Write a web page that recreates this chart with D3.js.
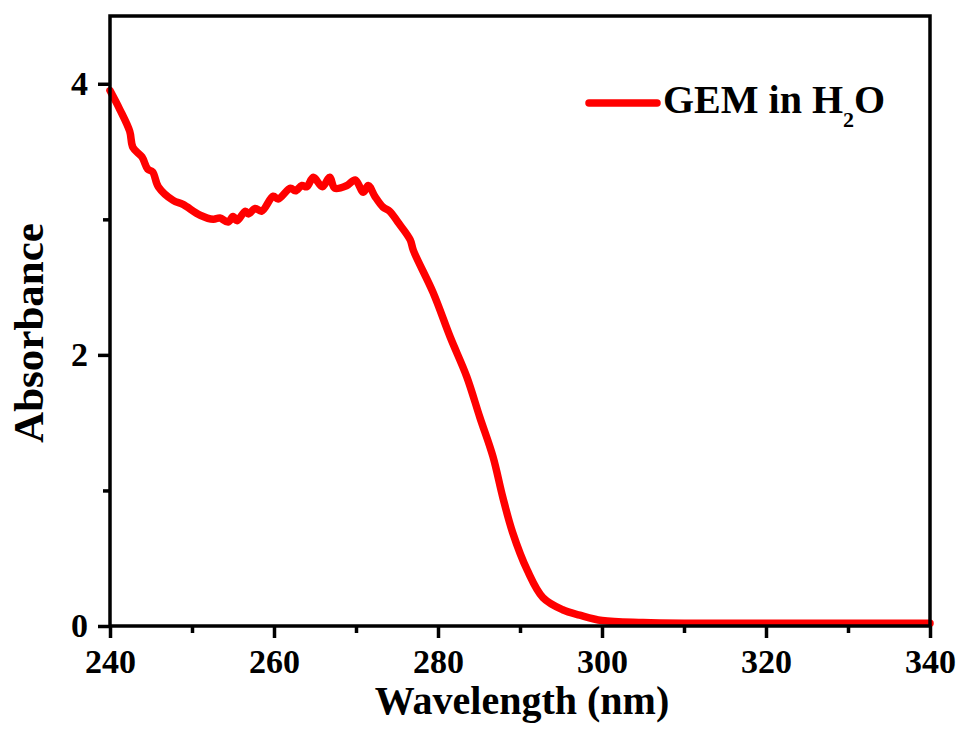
<!DOCTYPE html>
<html><head><meta charset="utf-8">
<script src="https://cdn.jsdelivr.net/npm/d3@7"></script>
<style>body{margin:0;background:#fff}svg{display:block}</style>
</head><body><svg width="960" height="729"></svg>
<script>
const wavelength = [240,241.2,242.4,242.8,243.9,244.6,245.2,245.9,247.7,248.9,251,252.6,253.4,254.4,255,255.5,256.5,256.9,257.7,258.5,259.9,260.5,262,262.6,263.4,264,264.8,265.9,266.8,267.4,268.9,269.9,270.9,271.5,272.3,273.3,274.1,275.1,276.6,277,279.4,281.5,283.5,285.1,286.7,287.9,289.1,290.9,292.8,295.2,297.3,300,305,310,320,330,340];
const absorbance = [3.95,3.81,3.65,3.53,3.46,3.37,3.35,3.24,3.14,3.11,3.03,3.00,3.01,2.98,3.02,2.99,3.06,3.04,3.08,3.06,3.17,3.15,3.23,3.21,3.25,3.24,3.31,3.24,3.31,3.23,3.25,3.29,3.20,3.25,3.17,3.09,3.06,2.98,2.85,2.77,2.46,2.13,1.84,1.54,1.25,0.95,0.69,0.41,0.21,0.12,0.08,0.04,0.025,0.02,0.02,0.02,0.02];
const xTicks = [240,260,280,300,320,340];
const xMinor = [250,270,290,310,330];
const yTicks = [0,2,4];
const yMinor = [1,3];
const seriesName = "GEM in H";

const svg = d3.select("svg");
const L=110,R=930,T=16,B=626;
const x = d3.scaleLinear().domain([240,340]).range([L,R]);
const y = d3.scaleLinear().domain([0,4.5]).range([B,T]);
const font = "'Liberation Serif','Times New Roman',serif";

const data = wavelength.map((w,i)=>[w,absorbance[i]]);
svg.append("path").datum(data)
  .attr("fill","none").attr("stroke","#ff0000").attr("stroke-width",7.5)
  .attr("stroke-linejoin","round").attr("stroke-linecap","round")
  .attr("d", d3.line().curve(d3.curveCatmullRom.alpha(0.5)).x(d=>x(d[0])).y(d=>y(d[1])));

// frame
svg.append("rect").attr("x",L).attr("y",T).attr("width",R-L).attr("height",B-T)
  .attr("fill","none").attr("stroke","#000").attr("stroke-width",3.5);

const xa = svg.append("g").attr("transform",`translate(0,${B})`)
  .call(d3.axisBottom(x).tickValues(xTicks).tickSize(12).tickPadding(11).tickFormat(d3.format("d")));
const xm = svg.append("g").attr("transform",`translate(0,${B})`)
  .call(d3.axisBottom(x).tickValues(xMinor).tickSize(7).tickFormat(""));
const ya = svg.append("g").attr("transform",`translate(${L},0)`)
  .call(d3.axisLeft(y).tickValues(yTicks).tickSize(12).tickPadding(10).tickFormat(d3.format("d")));
const ym = svg.append("g").attr("transform",`translate(${L},0)`)
  .call(d3.axisLeft(y).tickValues(yMinor).tickSize(7).tickFormat(""));
[xa,xm,ya,ym].forEach(g=>{
  g.select(".domain").remove();
  g.selectAll("line").attr("stroke","#000").attr("stroke-width",3.5);
  g.selectAll("text").attr("font-family",font).attr("font-weight","bold").attr("font-size",34).attr("fill","#000");
});

svg.append("text").attr("x",(L+R)/2+2).attr("y",714).attr("text-anchor","middle")
  .attr("font-family",font).attr("font-weight","bold").attr("font-size",40).text("Wavelength (nm)");
svg.append("text").attr("transform",`translate(43,333) rotate(-90)`).attr("text-anchor","middle")
  .attr("font-family",font).attr("font-weight","bold").attr("font-size",43).text("Absorbance");

// legend
svg.append("line").attr("x1",589).attr("x2",657).attr("y1",103).attr("y2",103)
  .attr("stroke","#ff0000").attr("stroke-width",7.5).attr("stroke-linecap","round");
const lt = svg.append("text").attr("x",663).attr("y",113)
  .attr("font-family",font).attr("font-weight","bold").attr("font-size",40);
lt.append("tspan").text(seriesName);
lt.append("tspan").attr("font-size",22).attr("dy",14).text("2");
lt.append("tspan").attr("dy",-14).text("O");
</script></body></html>
